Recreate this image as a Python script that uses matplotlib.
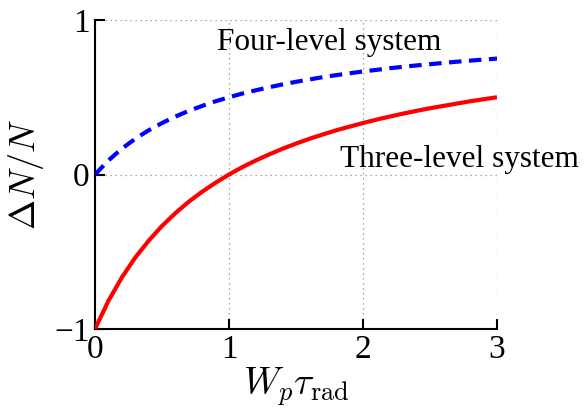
import matplotlib
matplotlib.use('Agg')
import matplotlib.pyplot as plt

plt.rcParams['font.family'] = 'Liberation Serif'
plt.rcParams['mathtext.fontset'] = 'cm'

# pump rate times radiative lifetime
w_tau = [0.0, 0.1, 0.2, 0.3, 0.4, 0.5, 0.6, 0.7, 0.8, 0.9, 1.0,
         1.1, 1.2, 1.3, 1.4, 1.5, 1.6, 1.7, 1.8, 1.9, 2.0,
         2.1, 2.2, 2.3, 2.4, 2.5, 2.6, 2.7, 2.8, 2.9, 3.0]
three_level = [-1.0, -0.818, -0.667, -0.538, -0.429, -0.333, -0.25, -0.176, -0.111, -0.053, 0.0,
               0.048, 0.091, 0.130, 0.167, 0.2, 0.231, 0.259, 0.286, 0.310, 0.333,
               0.355, 0.375, 0.394, 0.412, 0.429, 0.444, 0.459, 0.474, 0.487, 0.5]
four_level = [0.0, 0.091, 0.167, 0.231, 0.286, 0.333, 0.375, 0.412, 0.444, 0.474, 0.5,
              0.524, 0.545, 0.565, 0.583, 0.6, 0.615, 0.630, 0.643, 0.655, 0.667,
              0.677, 0.688, 0.697, 0.706, 0.714, 0.722, 0.730, 0.737, 0.744, 0.75]
xticks = [0, 1, 2, 3]
yticks = [-1, 0, 1]

fig = plt.figure(figsize=(5.85, 4.08), dpi=100)
ax = fig.add_axes([0.1624, 0.1936, 0.6872, 0.7574])

ax.plot(w_tau, three_level, color='red', lw=3.0, solid_capstyle='butt', zorder=3)
ax.plot(w_tau, four_level, color='blue', lw=3.0, dashes=(3.0, 1.8), zorder=3)

ax.set_xlim(0, 3)
ax.set_ylim(-1, 1)
ax.set_xticks(xticks)
ax.set_yticks(yticks)
ax.grid(True, linestyle=(0, (1, 3)), color='0.55', lw=0.9)

for side in ['top', 'right']:
    ax.spines[side].set_visible(False)
for side in ['left', 'bottom']:
    ax.spines[side].set_linewidth(1.5)
ax.tick_params(direction='in', length=7, width=1.5, labelsize=24, pad=4)

ax.text(1.75, 0.855, 'Four-level system', fontsize=22.5, ha='center', va='center')
ax.text(2.72, 0.095, 'Three-level system', fontsize=22.5, ha='center', va='center',
        clip_on=False)

ax.set_xlabel(r'$W_p\tau_{\rm rad}$', fontsize=27, labelpad=0)
ax.set_ylabel(r'$\Delta N/N$', fontsize=26, labelpad=6)

fig.savefig('out.png', dpi=100)
